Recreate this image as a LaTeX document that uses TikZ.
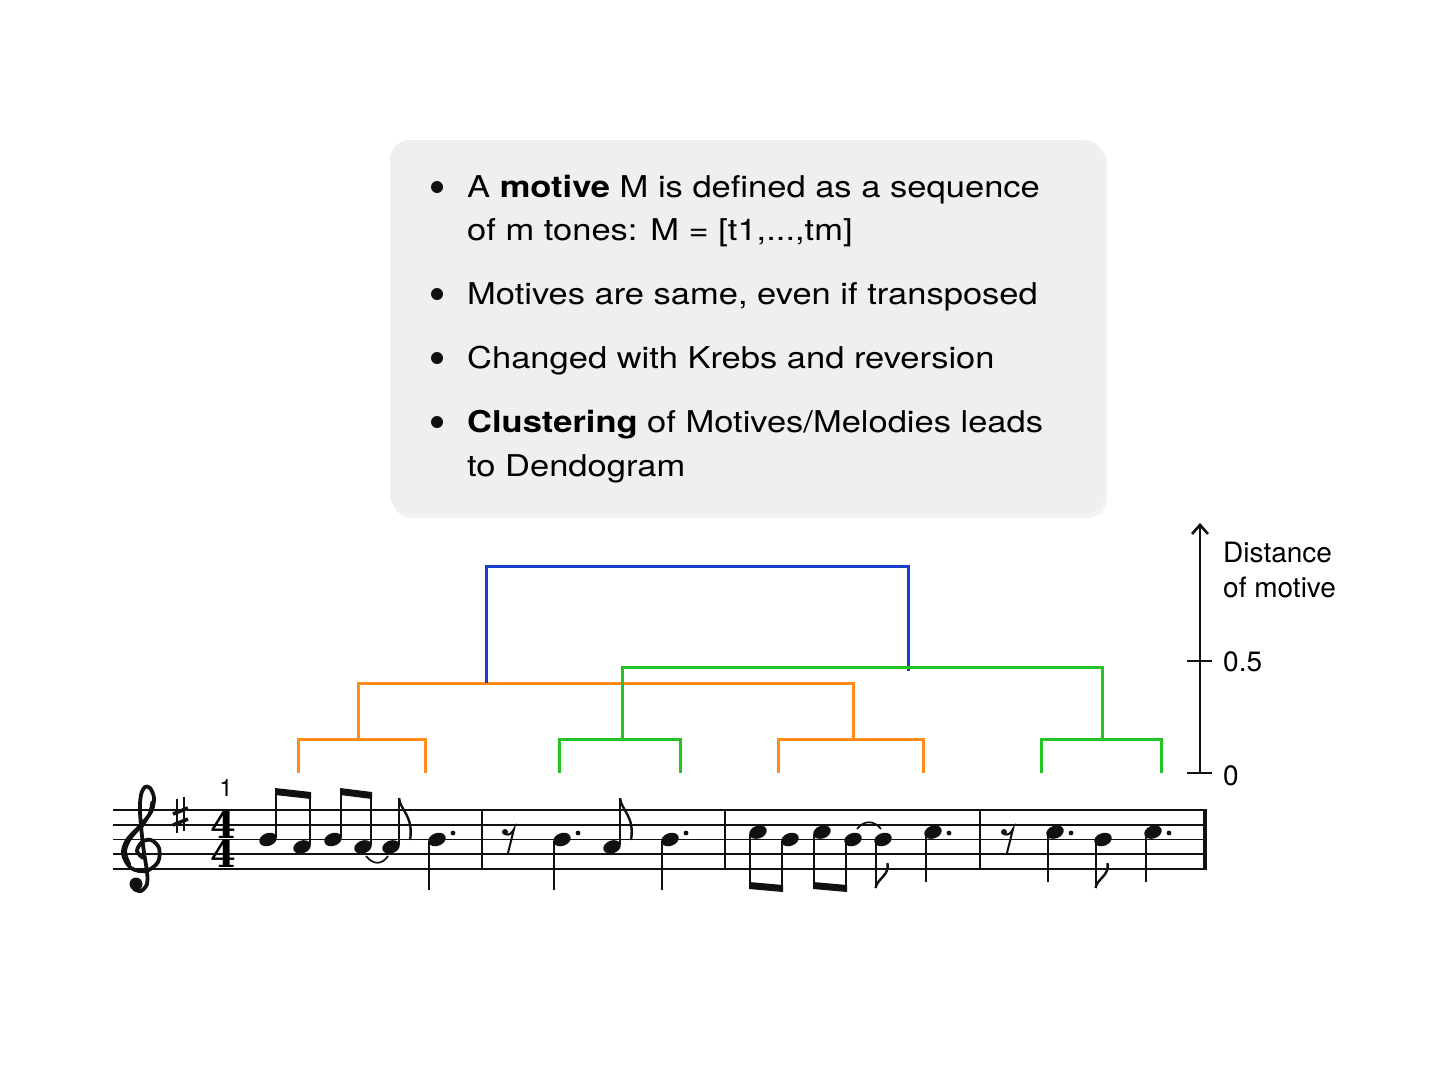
\documentclass[tikz,border=0pt]{standalone}
\usepackage{fontspec}
\setmainfont{TeX Gyre Heros}
\newfontfamily\boxfont{TeX Gyre Heros}[FakeStretch=1.15]
\newfontfamily\tsfont{DejaVu Serif}
\usetikzlibrary{arrows.meta}
\definecolor{boxgray}{HTML}{EFEFEF}
\definecolor{dblue}{HTML}{1A3FCC}
\definecolor{dorange}{HTML}{FF8A1E}
\definecolor{dgreen}{HTML}{22C322}
\definecolor{ink}{HTML}{111111}
\tikzset{
  bt/.style={anchor=base west, inner sep=0pt, font=\boxfont\fontsize{30}{36}\selectfont},
  ax/.style={anchor=base west, inner sep=0pt, font=\fontsize{28}{32}\selectfont},
  dend/.style={line width=3pt, line join=miter},
  bl/.style={dend, draw=dblue},
  orl/.style={dend, draw=dorange},
  grl/.style={dend, draw=dgreen},
  stemline/.style={draw=ink, line width=2pt},
  staffline/.style={draw=ink, line width=1.7pt},
  tsig/.style={inner sep=0pt, align=center, font=\tsfont\bfseries\fontsize{37}{29.5}\selectfont},
}
\newcommand\nhd[2]{\fill[ink, rotate around={20:(#1,#2)}] (#1,#2) ellipse [x radius=9pt, y radius=6.4pt];}
\newcommand\ndot[2]{\fill[ink] (#1,#2) circle (2.4pt);}
\newcommand\upflag[2]{\draw[ink, line width=2.4pt] (#1,#2) .. controls (#1+1,#2+12) and (#1+15,#2+18) .. (#1+11,#2+42);}
\newcommand\dnflag[2]{\draw[ink, line width=2.4pt] (#1,#2) .. controls (#1+2,#2-10) and (#1+14,#2-12) .. (#1+12,#2-25);}
\newcommand\erest[2]{\fill[ink] (#1-3,#2-5) circle (3pt);
  \draw[ink, line width=2pt] (#1-3,#2-3) .. controls (#1+1,#2-1) and (#1+4,#2-4) .. (#1+6,#2-8) -- (#1,#2+16);}
\newcommand\beam[3]{\fill[ink] (#1-1,#3) -- (#2+1,#3+4) -- (#2+1,#3+11) -- (#1-1,#3+7) -- cycle;}
\newcommand\dbeam[3]{\fill[ink] (#1-1,#3) -- (#2+1,#3+3) -- (#2+1,#3+10) -- (#1-1,#3+7) -- cycle;}
\begin{document}
\begin{tikzpicture}[x=1pt,y=-1pt]
\useasboundingbox (0,0) rectangle (1447,1087);
\fill[white] (0,0) rectangle (1447,1087);

% text box
\fill[black!5, rounded corners=20pt] (392,143) rectangle (1107,518);
\fill[boxgray, rounded corners=20pt] (390,140) rectangle (1104,514);
\foreach \b in {197,304,368,432} {\fill[ink] (437,\b-10) circle (6pt);}
\node[bt] (l1) at (467,197) {A \textbf{motive} M is defined as a sequence};
\node[bt] (l2) at (467,240) {of m tones: M = [t1,...,tm]};
\node[bt] (l3) at (467,304) {Motives are same, even if transposed};
\node[bt] (l4) at (467,368) {Changed with Krebs and reversion};
\node[bt] (l5) at (467,432) {\textbf{Clustering} of Motives/Melodies leads};
\node[bt] (l6) at (467,476) {to Dendogram};

% dendrogram
\draw[orl] (358,739) -- (358,683) -- (853,683) -- (853,739);
\draw[bl] (486,683) -- (486,566) -- (908,566) -- (908,671);
\draw[grl] (622,739) -- (622,667) -- (1102,667) -- (1102,739);
\draw[orl] (298,773) -- (298,739) -- (425,739) -- (425,773);
\draw[grl] (559,773) -- (559,739) -- (680,739) -- (680,773);
\draw[orl] (778,773) -- (778,739) -- (923,739) -- (923,773);
\draw[grl] (1041,773) -- (1041,739) -- (1161,739) -- (1161,773);

% axis
\coordinate (a0) at (1200,773);
\coordinate (atop) at (1200,523);
\draw[ink, line width=2.6pt, -{Straight Barb[length=9pt,width=16pt,line width=2.6pt]}] (a0) -- (atop);
\draw[ink, line width=2.6pt] (1187,661) -- (1212,661);
\draw[ink, line width=2.6pt] (1187,773) -- (1212,773);
\node[ax] (d1) at (1223,562) {Distance};
\node[ax] (d2) at (1223,597) {of motive};
\node[ax] (t5) at (1223,671) {0.5};
\node[ax] (t0) at (1223,785) {0};

% staff
\foreach \y in {810,824.75,839.5,854.25,869} {\draw[staffline] (113,\y) -- (1205,\y);}
\foreach \x in {482,725,980} {\draw[ink, line width=2.6pt] (\x,809) -- (\x,870);}
\draw[ink, line width=3.2pt] (1205,809) -- (1205,870);

% treble clef
\draw[ink, line width=3.8pt, line cap=round, line join=round] plot[smooth, tension=0.55] coordinates {(143,858) (137,851) (142,842) (151,840) (159,848) (158,862) (146,871) (131,868) (123,854) (127,840) (140,826) (151,812) (154,798) (150,788) (145,787) (141,795) (140,812) (143,845) (147,872) (147,884) (141,891) (134,889)};
\draw[ink, line width=4pt, line cap=round] plot[smooth, tension=0.6] coordinates {(129,864) (125,852) (129,840) (139,828)};
\draw[ink, line width=3pt, line cap=round] plot[smooth, tension=0.6] coordinates {(141,828) (149,815) (152,802)};
\fill[ink] (136,884) circle (6.5pt);

% key signature (sharp)
\draw[ink, line width=1.7pt] (177,799) -- (177,833);
\draw[ink, line width=1.7pt] (184,797) -- (184,831);
\draw[ink, line width=3.6pt] (173,814) -- (188,808);
\draw[ink, line width=3.6pt] (173,825) -- (188,819);

% time signature and measure number
\node[tsig] (ts) at (223,839.5) {4\\4};
\node[inner sep=0pt, font=\fontsize{24}{24}\selectfont] (mn) at (226,788) {1};

% measure 1
\nhd{268}{839.5}\draw[stemline] (276,838) -- (276,790);
\nhd{302}{846.9}\draw[stemline] (310,845) -- (310,793);
\beam{276}{310}{788}
\nhd{333}{839.5}\draw[stemline] (341,838) -- (341,790);
\nhd{363}{846.9}\draw[stemline] (371,845) -- (371,793);
\beam{341}{371}{788}
\nhd{391}{846.9}\draw[stemline] (399,845) -- (399,798);\upflag{399}{798}
\draw[ink, line width=1.7pt] (366,856) .. controls (373,865) and (382,865) .. (388,856);
\nhd{437}{839.5}\ndot{453}{833}\draw[stemline] (429,841) -- (429,890);

% measure 2
\erest{508}{837}
\nhd{562}{839.5}\ndot{578}{833}\draw[stemline] (554,841) -- (554,890);
\nhd{612}{846.9}\draw[stemline] (620,845) -- (620,798);\upflag{620}{798}
\nhd{670}{839.5}\ndot{686}{833}\draw[stemline] (662,841) -- (662,890);

% measure 3
\nhd{758}{832.1}\draw[stemline] (750,834) -- (750,886);
\nhd{790}{839.5}\draw[stemline] (782,841) -- (782,889);
\dbeam{750}{782}{882}
\nhd{822}{832.1}\draw[stemline] (814,834) -- (814,886);
\nhd{853}{839.5}\draw[stemline] (846,841) -- (846,889);
\dbeam{814}{846}{882}
\draw[ink, line width=1.7pt] (857,829) .. controls (864,820) and (874,820) .. (881,829);
\nhd{883}{839.5}\draw[stemline] (875.5,841) -- (875.5,888);\dnflag{875.5}{888}
\nhd{933}{832.1}\ndot{949}{833}\draw[stemline] (925.5,834) -- (925.5,882);

% measure 4
\erest{1007}{837}
\nhd{1055}{832.1}\ndot{1071}{833}\draw[stemline] (1047.5,834) -- (1047.5,882);
\nhd{1103}{839.5}\draw[stemline] (1095.5,841) -- (1095.5,888);\dnflag{1095.5}{888}
\nhd{1153}{832.1}\ndot{1169}{833}\draw[stemline] (1145.5,834) -- (1145.5,882);
\end{tikzpicture}
\end{document}
